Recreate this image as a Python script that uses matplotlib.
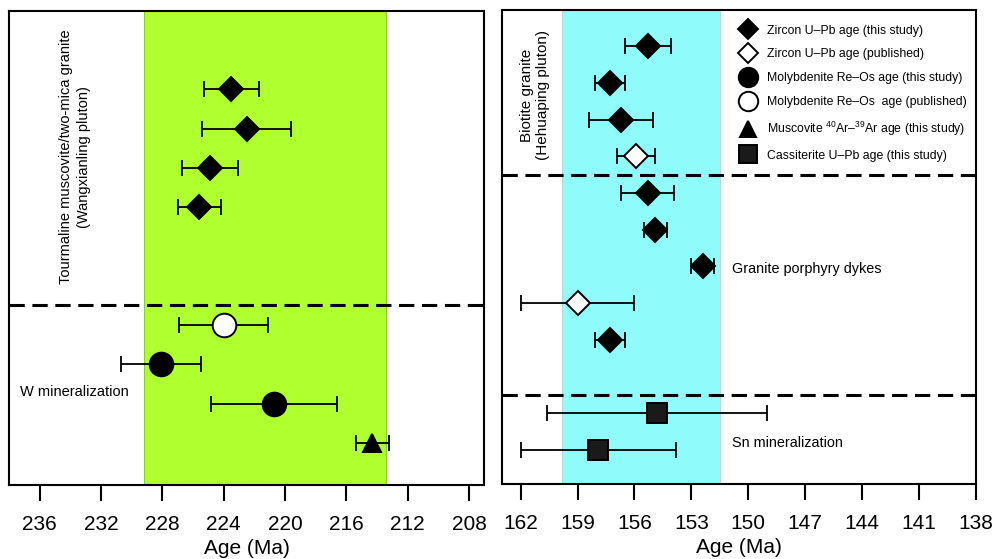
import matplotlib
matplotlib.use("Agg")
import matplotlib.pyplot as plt
from matplotlib.lines import Line2D

plt.rcParams['font.family'] = ['Liberation Sans', 'DejaVu Sans']
plt.rcParams['mathtext.fontset'] = 'custom'
plt.rcParams['mathtext.rm'] = 'Liberation Sans'

# Wangxianling: granite and W mineralization ages (Ma), 2-sigma errors
wx_age = [223.5, 222.5, 224.9, 225.6, 224.0, 228.1, 220.7, 214.3]
wx_err = [1.8, 2.9, 1.8, 1.4, 2.9, 2.6, 4.1, 1.1]
wx_kind = ['zr', 'zr', 'zr', 'zr', 'mo_pub', 'mo', 'mo', 'ms']
wx_row = [2, 3, 4, 5, 8, 9, 10, 11]
wx_band = (229.2, 213.4)
wx_ticks = [236, 232, 228, 224, 220, 216, 212, 208]

# Hehuaping: granite, porphyry dykes and Sn mineralization
hh_age = [155.3, 157.3, 156.7, 155.9, 155.3, 154.9, 152.4, 159.0, 157.3, 154.8, 157.9]
hh_err = [1.2, 0.8, 1.7, 1.0, 1.4, 0.6, 0.6, 3.0, 0.8, 5.8, 4.1]
hh_kind = ['zr', 'zr', 'zr', 'zr_pub', 'zr', 'zr', 'zr', 'zr_pub', 'zr', 'cst', 'cst']
hh_row = [1, 2, 3, 4, 5, 6, 7, 8, 9, 11, 12]
hh_band = (159.8, 151.5)
hh_ticks = [162, 159, 156, 153, 150, 147, 144, 141, 138]

styles = {
    'zr':     dict(marker='D', mfc='black', ms=12),
    'zr_pub': dict(marker='D', mfc='white', ms=12),
    'mo':     dict(marker='o', mfc='black', ms=17),
    'mo_pub': dict(marker='o', mfc='white', ms=17),
    'ms':     dict(marker='^', mfc='black', ms=13),
    'cst':    dict(marker='s', mfc='#1a1a1a', ms=15),
}
labels = {
    'zr': 'Zircon U\u2013Pb age (this study)',
    'zr_pub': 'Zircon U\u2013Pb age (published)',
    'mo': 'Molybdenite Re\u2013Os age (this study)',
    'mo_pub': 'Molybdenite Re\u2013Os  age (published)',
    'ms': 'Muscovite $^{40}$Ar\u2013$^{39}$Ar age (this study)',
    'cst': 'Cassiterite U\u2013Pb age (this study)',
}


def draw_points(ax, ages, errs, kinds, rows):
    for a, e, k, r in zip(ages, errs, kinds, rows):
        st = styles[k]
        ax.errorbar(a, r, xerr=e, fmt='none', ecolor='black', elinewidth=1.3,
                    capsize=6, capthick=1.3, zorder=3)
        ax.plot(a, r, linestyle='none', marker=st['marker'], ms=st['ms'],
                mfc=st['mfc'], mec='black', mew=1.4, zorder=4)


def style_axis(ax, xlim, ticks, ylim):
    ax.set_xlim(*xlim)
    ax.set_ylim(*ylim)
    ax.set_xticks(ticks)
    ax.set_yticks([])
    ax.tick_params(axis='x', direction='out', length=11.5, width=1.5,
                   labelsize=15, pad=10)
    for s in ax.spines.values():
        s.set_linewidth(1.5)
    ax.set_xlabel('Age (Ma)', fontsize=15, labelpad=3.5)


fig = plt.figure(figsize=(9.95, 5.59), dpi=100)
ax1 = fig.add_axes([0.009, 0.1324, 0.4779, 0.8485])
ax2 = fig.add_axes([0.5042, 0.1336, 0.4767, 0.8494])

# left panel
ax1.axvspan(*wx_band, color='#b0ff2e', ec='#8ccc2a', lw=0.8, zorder=0)
ax1.axhline(7.5, color='black', lw=2.2, ls=(0, (5, 2.5)), zorder=2)
draw_points(ax1, wx_age, wx_err, wx_kind, wx_row)
style_axis(ax1, (238, 207), wx_ticks, (12.07, 0))
ax1.text(0.138, 0.692, 'Tourmaline muscovite/two-mica granite\n(Wangxianling pluton)',
         transform=ax1.transAxes, rotation=90, ha='center', va='center',
         fontsize=10.5, linespacing=1.35)
ax1.text(0.023, 0.195, 'W mineralization', transform=ax1.transAxes,
         ha='left', va='center', fontsize=10.5)

# right panel
ax2.axvspan(*hh_band, color='#90fbfb', ec='#b8d8d8', lw=0.8, zorder=0)
for y in (4.5, 10.5):
    ax2.axhline(y, color='black', lw=2.2, ls=(0, (5, 2.5)), zorder=2)
draw_points(ax2, hh_age, hh_err, hh_kind, hh_row)
style_axis(ax2, (163, 138), hh_ticks, (12.94, 0))
ax2.text(0.07, 0.82, 'Biotite granite\n(Hehuaping pluton)',
         transform=ax2.transAxes, rotation=90, ha='center', va='center',
         fontsize=11, linespacing=1.25)
ax2.text(0.486, 0.453, 'Granite porphyry dykes', transform=ax2.transAxes,
         ha='left', va='center', fontsize=10.4)
ax2.text(0.485, 0.087, 'Sn mineralization', transform=ax2.transAxes,
         ha='left', va='center', fontsize=10.4)

order = ['zr', 'zr_pub', 'mo', 'mo_pub', 'ms', 'cst']
leg_ms = {'zr': 10, 'zr_pub': 10, 'mo': 14, 'mo_pub': 14, 'ms': 12, 'cst': 13}
handles = [Line2D([], [], linestyle='none', marker=styles[k]['marker'],
                  ms=leg_ms[k], mfc=styles[k]['mfc'], mec='black', mew=1.4)
           for k in order]
ax2.legend(handles, [labels[k] for k in order], loc='upper left',
           bbox_to_anchor=(0.503, 0.968), frameon=False, fontsize=8.8,
           handlelength=1.2, handletextpad=0.95, labelspacing=0.96,
           borderpad=0, borderaxespad=0)

fig.savefig('out.png', dpi=100)
